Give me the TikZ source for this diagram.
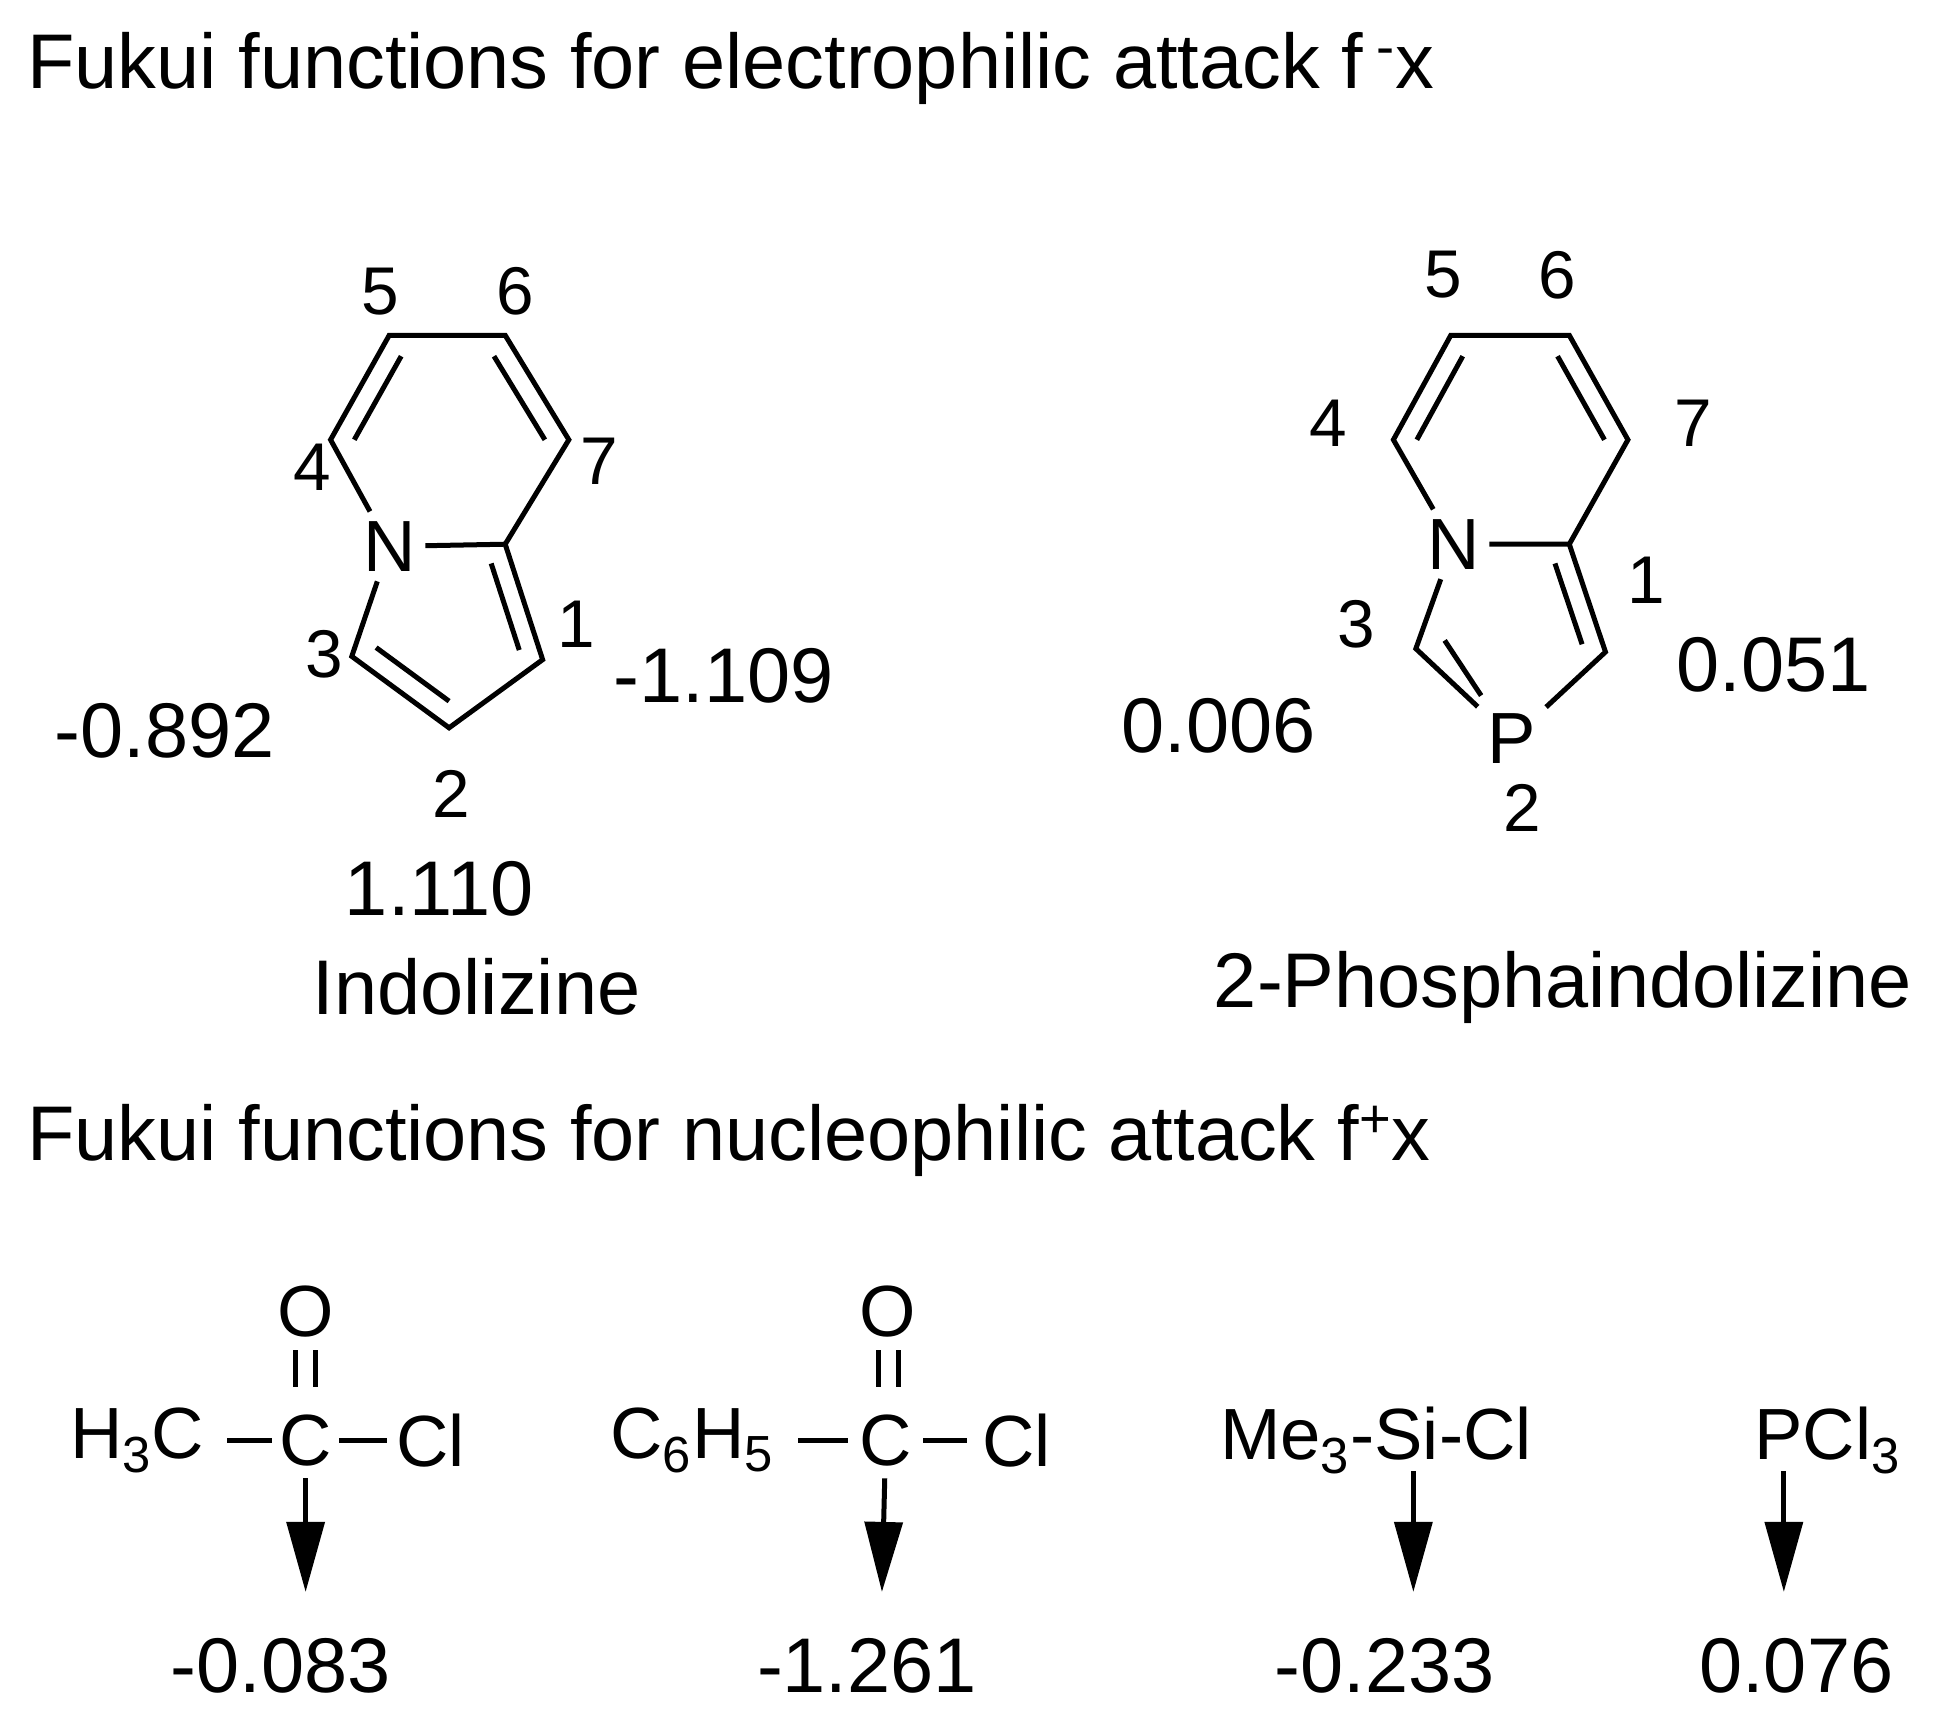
\documentclass[tikz,border=0pt]{standalone}
\usepackage{fontspec}
\setmainfont{Liberation Sans}
\usetikzlibrary{calc,arrows.meta}
\begin{document}
\begin{tikzpicture}[x=0.4988pt,y=-0.4396pt,line width=2pt,
  big/.style={font=\fontsize{31}{36}\selectfont,inner sep=0pt},
  lab/.style={font=\fontsize{27}{32}\selectfont,inner sep=0pt},
  atom/.style={font=\fontsize{29}{34}\selectfont,inner sep=3pt},
  form/.style={font=\fontsize{29}{34}\selectfont,inner sep=0pt},
  pt/.style={inner sep=0pt,minimum size=0pt},
  arr/.style={-{Triangle[length=28pt,width=15pt]}}]
\useasboundingbox (0,0) rectangle (1560,1560);
% titles
\node[big,anchor=west] (t1) at (20,62) {Fukui functions for electrophilic attack f\,\textsuperscript{-}x};
\node[big,anchor=west] (t2) at (20,1037) {Fukui functions for nucleophilic attack f\textsuperscript{+}x};
% ---------- Indolizine ----------
\coordinate (a5) at (312,305); \coordinate (a6) at (405,305);
\coordinate (a7) at (456,400); \coordinate (a4) at (265,400);
\node[atom] (aN) at (312,497) {N};
\coordinate (a8) at (405,495); \coordinate (a1) at (435,600);
\coordinate (a2) at (360,662); \coordinate (a3) at (282,597);
\coordinate (ac6) at (360,400); \coordinate (ac5) at (360,565);
\draw (aN) -- (a4) -- (a5) -- (a6) -- (a7) -- (a8) -- (aN);
\draw (a8) -- (a1) -- (a2) -- (a3) -- (aN);
\draw ($(a4)!0.2!(ac6)$) -- ($(a5)!0.2!(ac6)$);
\draw ($(a6)!0.2!(ac6)$) -- ($(a7)!0.2!(ac6)$);
\draw ($(a8)!0.25!(ac5)$) -- ($(a1)!0.25!(ac5)$);
\draw ($(a2)!0.25!(ac5)$) -- ($(a3)!0.25!(ac5)$);
\node[lab] (l5) at (305,265) {5}; \node[lab] (l6) at (413,265) {6};
\node[lab] (l4) at (250,425) {4}; \node[lab] (l7) at (480,420) {7};
\node[lab] (l1) at (462,568) {1}; \node[lab] (l3) at (260,595) {3};
\node[lab] (l2) at (362,722) {2};
\node[big] (v1) at (580,615) {-1.109};
\node[big] (v3) at (132,665) {-0.892};
\node[big] (v2) at (352,808) {1.110};
\node[big] (n1) at (382,898) {Indolizine};
% ---------- 2-Phosphaindolizine ----------
\coordinate (b5) at (1163,305); \coordinate (b6) at (1258,305);
\coordinate (b7) at (1305,400); \coordinate (b4) at (1117,400);
\node[atom] (bN) at (1165,495) {N};
\coordinate (b8) at (1258,495); \coordinate (b1) at (1287,593);
\node[atom] (bP) at (1212,672) {P};
\coordinate (b3) at (1135,590);
\coordinate (bc6) at (1211,400); \coordinate (bc5) at (1212,565);
\draw (bN) -- (b4) -- (b5) -- (b6) -- (b7) -- (b8) -- (bN);
\draw (b8) -- (b1) -- (bP) -- (b3) -- (bN);
\draw ($(b4)!0.2!(bc6)$) -- ($(b5)!0.2!(bc6)$);
\draw ($(b6)!0.2!(bc6)$) -- ($(b7)!0.2!(bc6)$);
\draw ($(b8)!0.25!(bc5)$) -- ($(b1)!0.25!(bc5)$);
\draw ($(b3)!0.3!(bc5)$) -- ($(bP.north west)!0.1!(bc5)$);
\node[lab] (m5) at (1157,250) {5}; \node[lab] (m6) at (1248,250) {6};
\node[lab] (m4) at (1065,385) {4}; \node[lab] (m7) at (1357,385) {7};
\node[lab] (m1) at (1320,528) {1}; \node[lab] (m3) at (1087,568) {3};
\node[lab] (m2) at (1220,735) {2};
\node[big] (w1) at (1422,605) {0.051};
\node[big] (w3) at (977,660) {0.006};
\node[big] (n2) at (1253,898) {2-Phosphaindolizine};
% ---------- bottom row ----------
\node[form] (h3c) at (110,1310) {H\textsubscript{3}C};
\node[form,inner sep=4pt] (c1) at (245,1310) {C};
\node[form] (cl1) at (345,1310) {Cl};
\node[form,inner sep=4pt] (o1) at (245,1193) {O};
\draw (h3c.east) ++(6pt,0) coordinate (e1); \draw (182,1310) -- (218,1310);
\draw (272,1310) -- (310,1310);
\draw (237,1228) -- (237,1262); \draw (253,1228) -- (253,1262);
\coordinate (d1) at (245,1448);
\draw[arr] (c1) -- (d1);
\node[big] (r1) at (225,1515) {-0.083};

\node[form] (c6h5) at (555,1310) {C\textsubscript{6}H\textsubscript{5}};
\node[form,inner sep=4pt] (c2) at (710,1310) {C};
\node[form] (cl2) at (815,1310) {Cl};
\node[form,inner sep=4pt] (o2) at (712,1193) {O};
\draw (640,1310) -- (680,1310);
\draw (740,1310) -- (775,1310);
\draw (704,1228) -- (704,1262); \draw (720,1228) -- (720,1262);
\coordinate (d2) at (707,1448);
\draw[arr] (c2) -- (d2);
\node[big] (r2) at (695,1515) {-1.261};

\node[form] (si) at (1103,1310) {Me\textsubscript{3}-Si-Cl};
\coordinate (s3) at (1133,1338); \coordinate (d3) at (1133,1448);
\draw[arr] (s3) -- (d3);
\node[big] (r3) at (1110,1515) {-0.233};

\node[form] (pcl) at (1465,1310) {PCl\textsubscript{3}};
\coordinate (s4) at (1430,1338); \coordinate (d4) at (1430,1448);
\draw[arr] (s4) -- (d4);
\node[big] (r4) at (1440,1515) {0.076};
\end{tikzpicture}
\end{document}
